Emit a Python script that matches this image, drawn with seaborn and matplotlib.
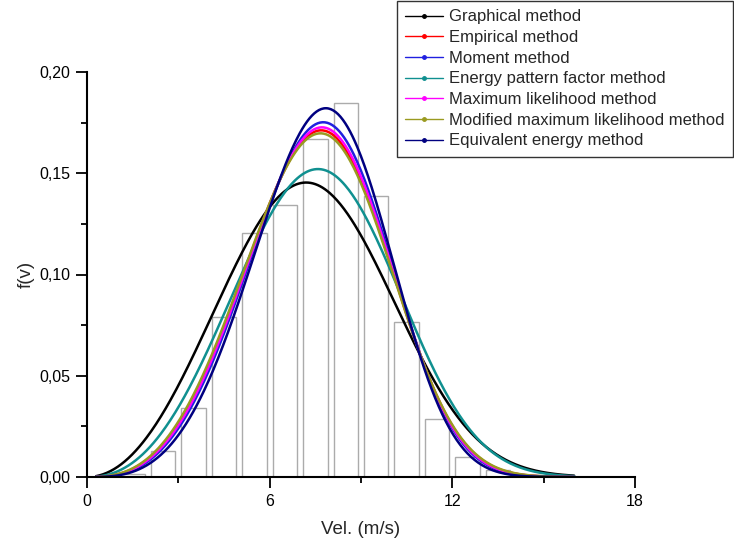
import numpy as np
import pandas as pd
import matplotlib
matplotlib.use("Agg")
import matplotlib.pyplot as plt
import seaborn as sns
from matplotlib.lines import Line2D
from matplotlib.ticker import MultipleLocator, FuncFormatter

# ---- data ----
bin_left = list(range(0, 16))
freq = [0.0, 0.0015, 0.013, 0.034, 0.079, 0.1205, 0.1345, 0.167,
        0.1845, 0.139, 0.0765, 0.0288, 0.0100, 0.0035, 0.001, 0.0003]

methods = ["Graphical method", "Empirical method", "Moment method",
           "Energy pattern factor method", "Maximum likelihood method",
           "Modified maximum likelihood method", "Equivalent energy method"]
shape_k = [3.05, 3.74, 3.85, 3.32, 3.78, 3.70, 4.03]
scale_c = [8.20, 8.36, 8.39, 8.45, 8.37, 8.35, 8.42]
colors = ["#000000", "#ff0000", "#2020e0", "#109090", "#ff00ff", "#9a9a20", "#000080"]

# ---- figure ----
sns.set_theme(style="white")
plt.rcParams['font.family'] = ['Liberation Sans', 'DejaVu Sans']

fig = plt.figure(figsize=(7.34, 5.42), dpi=100)
ax = fig.add_axes([87/734, 1-477/542, (635-87)/734, (477-72)/542])

hist_df = pd.DataFrame({"v": [b + 0.5 for b in bin_left], "f": freq})
sns.histplot(data=hist_df, x="v", weights="f", binwidth=1, binrange=(0, 16),
             shrink=0.8, fill=False, color="#ababab", linewidth=1.0, ax=ax)

v = np.linspace(0.3, 16.0, 400)
frames = []
for name, k, c in zip(methods, shape_k, scale_c):
    f = (k / c) * (v / c) ** (k - 1) * np.exp(-(v / c) ** k)
    frames.append(pd.DataFrame({"v": v, "f": f, "method": name}))
curves = pd.concat(frames, ignore_index=True)
sns.lineplot(data=curves, x="v", y="f", hue="method", hue_order=methods,
             palette=colors, linewidth=1.8, legend=False, ax=ax)

ax.set_xlim(0, 18)
ax.set_ylim(0, 0.20)
ax.xaxis.set_major_locator(MultipleLocator(6))
ax.xaxis.set_minor_locator(MultipleLocator(3))
ax.yaxis.set_major_locator(MultipleLocator(0.05))
ax.yaxis.set_minor_locator(MultipleLocator(0.025))
ax.yaxis.set_major_formatter(FuncFormatter(lambda y, p: f"{y:.2f}".replace(".", ",")))
ax.xaxis.set_major_formatter(FuncFormatter(lambda x, p: f"{x:.0f}"))
ax.tick_params(which="major", direction="out", length=8, width=1.3, labelsize=11.5,
               colors="black", bottom=True, left=True, pad=4)
ax.tick_params(which="minor", direction="out", length=4, width=1.3,
               bottom=True, left=True, colors="black")
for s in ["top", "right"]:
    ax.spines[s].set_visible(False)
for s in ["left", "bottom"]:
    ax.spines[s].set_color("black")
    ax.spines[s].set_linewidth(1.5)
ax.set_xlabel("Vel. (m/s)", fontsize=13.5, labelpad=9)
ax.set_ylabel("f(v)", fontsize=13.5, labelpad=3)
ax.set_facecolor("white")

handles = [Line2D([0], [0], color=col, lw=1.0, marker="o", markersize=2.5,
                  markeredgecolor=col, markerfacecolor=col) for col in colors]
leg = fig.legend(handles, methods, loc="upper right",
                 bbox_to_anchor=(733/734, 1 - 1/542), fontsize=12,
                 frameon=True, fancybox=False, edgecolor="black",
                 handlelength=2.3, handletextpad=0.36, labelspacing=0.34,
                 borderpad=0.5, borderaxespad=0.0)
leg.get_frame().set_linewidth(1.0)

fig.savefig("out.png", dpi=100, facecolor="white")
